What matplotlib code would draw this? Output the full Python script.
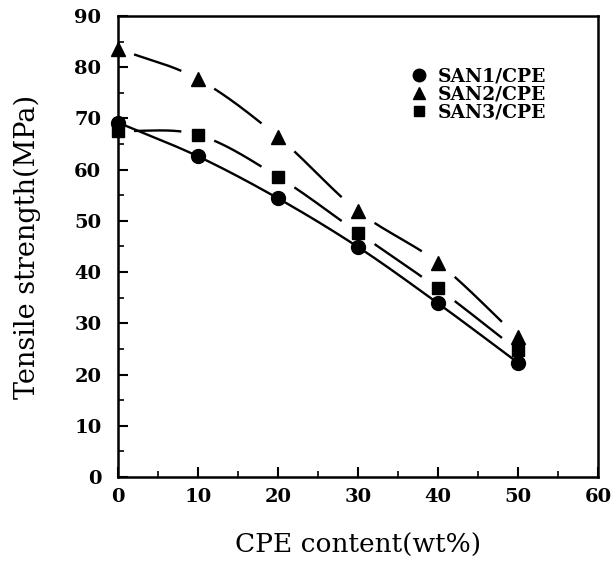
import matplotlib

matplotlib.use("Agg")

import matplotlib.pyplot as plt
import numpy as np
from matplotlib.ticker import MultipleLocator

# Values.
cpe_content = [0, 10, 20, 30, 40, 50]
san1_strength = [69.2, 62.6, 54.4, 44.9, 33.9, 22.3]
san2_strength = [83.6, 77.7, 66.4, 51.9, 41.8, 27.3]
san3_strength = [67.6, 66.8, 58.6, 47.7, 36.8, 24.7]
series_labels = ["SAN1/CPE", "SAN2/CPE", "SAN3/CPE"]

plt.rcParams["font.family"] = ["DejaVu Serif"]


def smooth_curve(xp, yp, xs):
    # Cubic Hermite curve through the points (Catmull-Rom style tangents).
    xp = np.asarray(xp, dtype=float)
    yp = np.asarray(yp, dtype=float)
    slopes = np.gradient(yp, xp)
    idx = np.clip(np.searchsorted(xp, xs, side="right") - 1, 0, len(xp) - 2)
    h = xp[idx + 1] - xp[idx]
    t = (xs - xp[idx]) / h
    h00 = 2 * t**3 - 3 * t**2 + 1
    h10 = t**3 - 2 * t**2 + t
    h01 = -2 * t**3 + 3 * t**2
    h11 = t**3 - t**2
    return (h00 * yp[idx] + h10 * h * slopes[idx]
            + h01 * yp[idx + 1] + h11 * h * slopes[idx + 1])


fig = plt.figure(figsize=(6.16, 5.64), dpi=100)
ax = fig.add_axes([0.1916, 0.1543, 0.7792, 0.8173])

x = np.asarray(cpe_content, dtype=float)
x_fine = np.linspace(0, 50, 500)

# marker, marker size, gap (in wt%) left around each marker by the curve
styles = [("o", 10, 0.0), ("^", 10, 2.0), ("s", 8, 2.0)]

for values, label, (marker, size, gap) in zip(
    [san1_strength, san2_strength, san3_strength], series_labels, styles
):
    curve = smooth_curve(x, values, x_fine)
    if gap > 0:
        near = np.min(np.abs(x_fine[:, None] - x[None, :]), axis=1) < gap
        curve = np.where(near, np.nan, curve)
    ax.plot(x_fine, curve, color="black", linewidth=1.7, solid_capstyle="butt")
    ax.plot(x, values, linestyle="none", marker=marker, markersize=size,
            color="black", label=label, clip_on=False, zorder=3)

ax.set_xlim(0, 60)
ax.set_ylim(0, 90)
ax.xaxis.set_major_locator(MultipleLocator(10))
ax.xaxis.set_minor_locator(MultipleLocator(5))
ax.yaxis.set_major_locator(MultipleLocator(10))
ax.yaxis.set_minor_locator(MultipleLocator(5))
ax.tick_params(which="major", direction="in", length=7, width=1.5, labelsize=14)
ax.tick_params(axis="x", which="major", pad=8)
ax.tick_params(axis="y", which="major", pad=12)
ax.tick_params(which="minor", direction="in", length=4, width=1.2)
for lab in ax.get_xticklabels() + ax.get_yticklabels():
    lab.set_fontweight("bold")
for spine in ax.spines.values():
    spine.set_linewidth(1.8)

ax.set_xlabel("CPE content(wt%)", fontsize=19, labelpad=19)
ax.set_ylabel("Tensile strength(MPa)", fontsize=19.5, labelpad=24)

ax.legend(loc="upper left", bbox_to_anchor=(0.595, 0.905), frameon=False,
          handlelength=0.8, handletextpad=0.6, labelspacing=0.0,
          markerscale=0.9, prop={"size": 13.5, "weight": "bold"}, borderaxespad=0)

fig.savefig("out.png", dpi=100)
